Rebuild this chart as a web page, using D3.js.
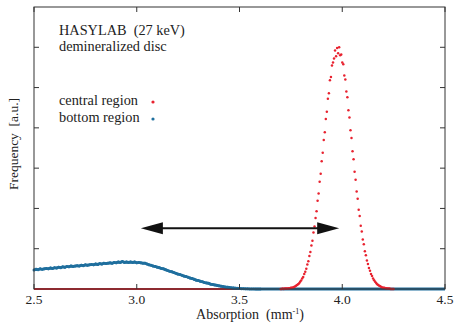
<!DOCTYPE html>
<html>
<head>
<meta charset="utf-8">
<script src="https://cdn.jsdelivr.net/npm/d3@7/dist/d3.min.js"></script>
<style>
    body { margin: 0; background: #fff; }
    svg text { font-family: "Liberation Serif", "DejaVu Serif", serif; fill: #222; }
</style>
</head>
<body>
<svg id="chart" width="456" height="323"></svg>
<script>
// x ticks (absorption, mm^-1)
const xTicks = [2.5, 3.0, 3.5, 4.0, 4.5];
const yTicks = [1, 2, 3, 4, 5, 6];

// central region histogram, bins of 0.005 starting at 3.700
const centralStart = 3.700;
const centralBin = 0.005;
const central = [
    0.00, 0.00, 0.01, 0.00, 0.01, 0.01, 0.01, 0.01, 0.02, 0.02,
    0.03, 0.03, 0.04, 0.05, 0.06, 0.08, 0.10, 0.12, 0.14, 0.18,
    0.21, 0.26, 0.30, 0.37, 0.43, 0.50, 0.61, 0.69, 0.82, 0.92,
    1.08, 1.20, 1.40, 1.55, 1.76, 1.93, 2.19, 2.37, 2.66, 2.86,
    3.17, 3.38, 3.70, 3.89, 4.22, 4.40, 4.72, 4.86, 5.18, 5.26,
    5.55, 5.62, 5.72, 5.92, 5.78, 5.98, 5.85, 6.00, 5.80, 5.82,
    5.62, 5.58, 5.30, 5.20, 4.90, 4.76, 4.44, 4.26, 3.94, 3.75,
    3.42, 3.22, 2.91, 2.71, 2.42, 2.24, 1.97, 1.81, 1.57, 1.43,
    1.23, 1.11, 0.94, 0.84, 0.71, 0.62, 0.52, 0.45, 0.37, 0.32,
    0.26, 0.22, 0.18, 0.15, 0.12, 0.10, 0.08, 0.07, 0.05, 0.04,
    0.03, 0.03, 0.02, 0.02, 0.01, 0.01, 0.01, 0.00, 0.00, 0.00,
    0.00
];

// bottom region histogram, bins of 0.01 starting at 2.50
const bottomStart = 2.50;
const bottomBin = 0.01;
const bottom = [
    0.47, 0.49, 0.48, 0.50, 0.49, 0.50, 0.51, 0.50, 0.52, 0.51,
    0.53, 0.52, 0.54, 0.53, 0.55, 0.54, 0.56, 0.55, 0.57, 0.56,
    0.57, 0.58, 0.57, 0.59, 0.58, 0.60, 0.59, 0.60, 0.61, 0.60,
    0.62, 0.61, 0.63, 0.62, 0.64, 0.63, 0.64, 0.65, 0.64, 0.66,
    0.65, 0.67, 0.66, 0.68, 0.66, 0.67, 0.66, 0.67, 0.66, 0.67,
    0.65, 0.66, 0.65, 0.64, 0.64, 0.62, 0.60, 0.59, 0.57, 0.56,
    0.54, 0.53, 0.51, 0.50, 0.48, 0.46, 0.44, 0.43, 0.41, 0.39,
    0.37, 0.36, 0.34, 0.32, 0.31, 0.29, 0.27, 0.26, 0.24, 0.22,
    0.21, 0.19, 0.18, 0.16, 0.15, 0.14, 0.12, 0.11, 0.10, 0.09,
    0.08, 0.07, 0.06, 0.05, 0.045, 0.04, 0.03, 0.025, 0.02, 0.016,
    0.012, 0.009, 0.007, 0.005, 0.004, 0.003, 0.002, 0.001, 0.00, 0.00,
    0.00
];

// double arrow annotation (data units)
const arrowFrom = 3.02;
const arrowTo = 3.985;
const arrowLevel = 1.51;

const margin = {top: 7, right: 11, bottom: 34, left: 34};
const width = 456, height = 323;

const svg = d3.select('#chart');

const x = d3.scaleLinear()
    .domain([2.5, 4.5])
    .range([margin.left, width - margin.right]);

const y = d3.scaleLinear()
    .domain([0, 7])
    .range([height - margin.bottom, margin.top]);

const centralPts = central.map((v, i) => [centralStart + i * centralBin, v]);
const bottomPts = bottom.map((v, i) => [bottomStart + i * bottomBin, v]);
bottomPts.push([4.5, 0]);

// red baseline where the central histogram is empty
svg.append('line')
    .attr('x1', x(2.5)).attr('x2', x(centralStart))
    .attr('y1', y(0)).attr('y2', y(0))
    .attr('stroke', '#e8222f')
    .attr('stroke-width', 2);

// bottom region (blue, dense points)
const line = d3.line()
    .x(d => x(d[0]))
    .y(d => y(d[1]));

svg.append('path')
    .datum(bottomPts)
    .attr('d', line)
    .attr('fill', 'none')
    .attr('stroke', '#1f6f9e')
    .attr('stroke-width', 2.8);

svg.selectAll('.bpt')
    .data(bottomPts.slice(0, bottom.length))
    .enter()
    .append('circle')
    .attr('class', 'bpt')
    .attr('cx', d => x(d[0]))
    .attr('cy', d => y(d[1]))
    .attr('r', 1.5)
    .attr('fill', '#1f6f9e');

// central region (red points)
svg.selectAll('.cpt')
    .data(centralPts)
    .enter()
    .append('circle')
    .attr('class', 'cpt')
    .attr('cx', d => x(d[0]))
    .attr('cy', d => y(d[1]))
    .attr('r', 1.25)
    .attr('fill', '#e8222f');

// frame
const frameColor = '#333';
svg.append('rect')
    .attr('x', x(2.5)).attr('y', y(7))
    .attr('width', x(4.5) - x(2.5))
    .attr('height', y(0) - y(7))
    .attr('fill', 'none')
    .attr('stroke', frameColor)
    .attr('stroke-width', 1);

// inward ticks on all four sides
const tl = 5;
xTicks.forEach(t => {
    svg.append('line').attr('x1', x(t)).attr('x2', x(t))
        .attr('y1', y(0)).attr('y2', y(0) - tl).attr('stroke', frameColor);
    svg.append('line').attr('x1', x(t)).attr('x2', x(t))
        .attr('y1', y(7)).attr('y2', y(7) + tl).attr('stroke', frameColor);
});
yTicks.forEach(t => {
    svg.append('line').attr('x1', x(2.5)).attr('x2', x(2.5) + tl)
        .attr('y1', y(t)).attr('y2', y(t)).attr('stroke', frameColor);
    svg.append('line').attr('x1', x(4.5)).attr('x2', x(4.5) - tl)
        .attr('y1', y(t)).attr('y2', y(t)).attr('stroke', frameColor);
});

// x tick labels
svg.selectAll('.xl')
    .data(xTicks)
    .enter()
    .append('text')
    .attr('class', 'xl')
    .attr('x', d => x(d))
    .attr('y', y(0) + 15)
    .attr('text-anchor', 'middle')
    .attr('font-size', 13.5)
    .text(d => d.toFixed(1));

// axis titles
const xt = svg.append('text')
    .attr('x', 250)
    .attr('y', 319)
    .attr('text-anchor', 'middle')
    .attr('font-size', 14)
    .attr('xml:space', 'preserve');
xt.append('tspan').text('Absorption  (mm');
xt.append('tspan').attr('font-size', 8).attr('dy', -5).text('-1');
xt.append('tspan').attr('dy', 5).text(')');

svg.append('text')
    .attr('transform', 'translate(18,144) rotate(-90)')
    .attr('text-anchor', 'middle')
    .attr('font-size', 13.5)
    .attr('xml:space', 'preserve')
    .text('Frequency  [a.u.]');

// annotation text
svg.append('text').attr('x', 59).attr('y', 35).attr('font-size', 14.3)
    .attr('xml:space', 'preserve').text('HASYLAB  (27 keV)');
svg.append('text').attr('x', 59).attr('y', 51).attr('font-size', 14.3)
    .text('demineralized disc');

// legend
const legend = [
    {label: 'central region', color: '#e8222f', yy: 105},
    {label: 'bottom region', color: '#1f6f9e', yy: 122}
];
legend.forEach(l => {
    svg.append('text').attr('x', 59).attr('y', l.yy).attr('font-size', 14.3).text(l.label);
    svg.append('circle').attr('cx', 153).attr('cy', l.yy - 3).attr('r', 1.6).attr('fill', l.color);
});

// double-headed arrow
const ay = y(arrowLevel);
const ax1 = x(arrowFrom), ax2 = x(arrowTo);
const headL = 22, headH = 6;
svg.append('line')
    .attr('x1', ax1 + headL - 2).attr('x2', ax2 - headL + 2)
    .attr('y1', ay).attr('y2', ay)
    .attr('stroke', '#111').attr('stroke-width', 2);
svg.append('path')
    .attr('d', `M${ax1},${ay} L${ax1 + headL},${ay - headH} L${ax1 + headL},${ay + headH} Z`)
    .attr('fill', '#111');
svg.append('path')
    .attr('d', `M${ax2},${ay} L${ax2 - headL},${ay - headH} L${ax2 - headL},${ay + headH} Z`)
    .attr('fill', '#111');
</script>
</body>
</html>
